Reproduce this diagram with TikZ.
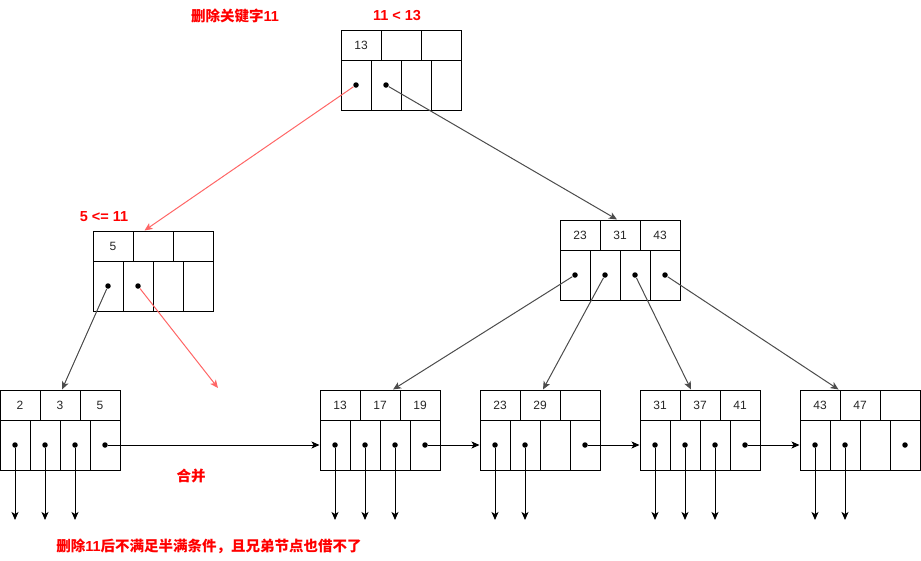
\documentclass[tikz,border=0pt]{standalone}
\usepackage{fontspec}
\setmainfont{Liberation Sans}
\newfontfamily\cjk{Noto Sans CJK SC}
\usetikzlibrary{arrows.meta,calc}
\definecolor{hotred}{RGB}{255,102,102}
\tikzset{keycell/.style={draw,minimum width=40pt,minimum height=30pt,inner sep=0pt,
        text=black!85,font=\fontsize{12}{14}\selectfont},
    ptrcell/.style={draw,minimum width=30pt,minimum height=50pt,inner sep=0pt},
    dot/.style={circle,fill,inner sep=0pt,minimum size=5.5pt},
    ptr/.style={-{Stealth[length=8pt,width=7pt,inset=2pt]},black!70},
    hot/.style={ptr,hotred},
    leaf/.style={-{Stealth[length=8pt,width=7pt,inset=2pt]},black},
    note/.style={text=red,inner sep=0pt,font=\bfseries\fontsize{14.5}{16}\selectfont},
    }
% #1 name, (#2,#3) top left, #4-#6 keys
\newcommand{\bpnode}[6]{%
  \node[keycell] (#1-k1) at (#2+20,#3+15) {#4};
  \node[keycell] (#1-k2) at (#2+60,#3+15) {#5};
  \node[keycell] (#1-k3) at (#2+100,#3+15) {#6};
  \foreach \j in {1,...,4}
    \node[ptrcell] (#1-p\j) at (#2-15+30*\j,#3+55) {};
}

\begin{document}
\begin{tikzpicture}[x=1pt,y=-1pt,line width=1pt]
\useasboundingbox (0,0) rectangle (921,560);

\bpnode{root}{341}{30}{13}{}{}
\bpnode{lft}{93}{231}{5}{}{}
\bpnode{rgt}{560}{220}{23}{31}{43}
\bpnode{l1}{0}{390}{2}{3}{5}
\bpnode{l2}{320}{390}{13}{17}{19}
\bpnode{l3}{480}{390}{23}{29}{}
\bpnode{l4}{640}{390}{31}{37}{41}
\bpnode{l5}{800}{390}{43}{47}{}

\foreach \n/\j in {root/1,root/2,lft/1,lft/2,rgt/1,rgt/2,rgt/3,rgt/4,
    l1/1,l1/2,l1/3,l1/4,l2/1,l2/2,l2/3,l2/4,l3/1,l3/2,l3/4,
    l4/1,l4/2,l4/3,l4/4,l5/1,l5/2,l5/4}
  \node[dot] (\n-d\j) at (\n-p\j) {};

\draw[hot] (root-d1) -- ($(lft-k2.north west)+(12,0)$);
\draw[ptr] (root-d2) -- ($(rgt-k2.north)+(-3,0)$);
\draw[ptr] (lft-d1) -- ($(l1-k2.north)+(2,0)$);
\coordinate (gone) at (218,388);
\draw[hot] (lft-d2) -- (gone);
\draw[ptr] (rgt-d1) -- ($(l2-k2.north)+(13,0)$);
\draw[ptr] (rgt-d2) -- ($(l3-k2.north)+(3,0)$);
\draw[ptr] (rgt-d3) -- ($(l4-k2.north)+(-9,0)$);
\draw[ptr] (rgt-d4) -- ($(l5-k1.north east)+(-2,0)$);

\draw[leaf] (l1-d4) -- (l2-p1.west);
\draw[leaf] (l2-d4) -- (l3-p1.west);
\draw[leaf] (l3-d4) -- (l4-p1.west);
\draw[leaf] (l4-d4) -- (l5-p1.west);

\foreach \n/\j in {l1/1,l1/2,l1/3,l2/1,l2/2,l2/3,l3/1,l3/2,l4/1,l4/2,l4/3,l5/1,l5/2}{
  \coordinate (\n-e\j) at ($(\n-d\j)+(0,75)$);
  \draw[leaf] (\n-d\j) -- (\n-e\j);
}

\node[note] (del) at (235,16) {{\cjk 删除关键字}11};
\node[note] (cmp) at (397,16) {11 < 13};
\node[note] (cmpl) at (104,217) {5 <= 11};
\node[note] (merge) at (191,476) {\cjk 合并};
\node[note] (why) at (209,546) {{\cjk 删除}11{\cjk 后不满足半满条件，且兄弟节点也借不了}};
\end{tikzpicture}
\end{document}
